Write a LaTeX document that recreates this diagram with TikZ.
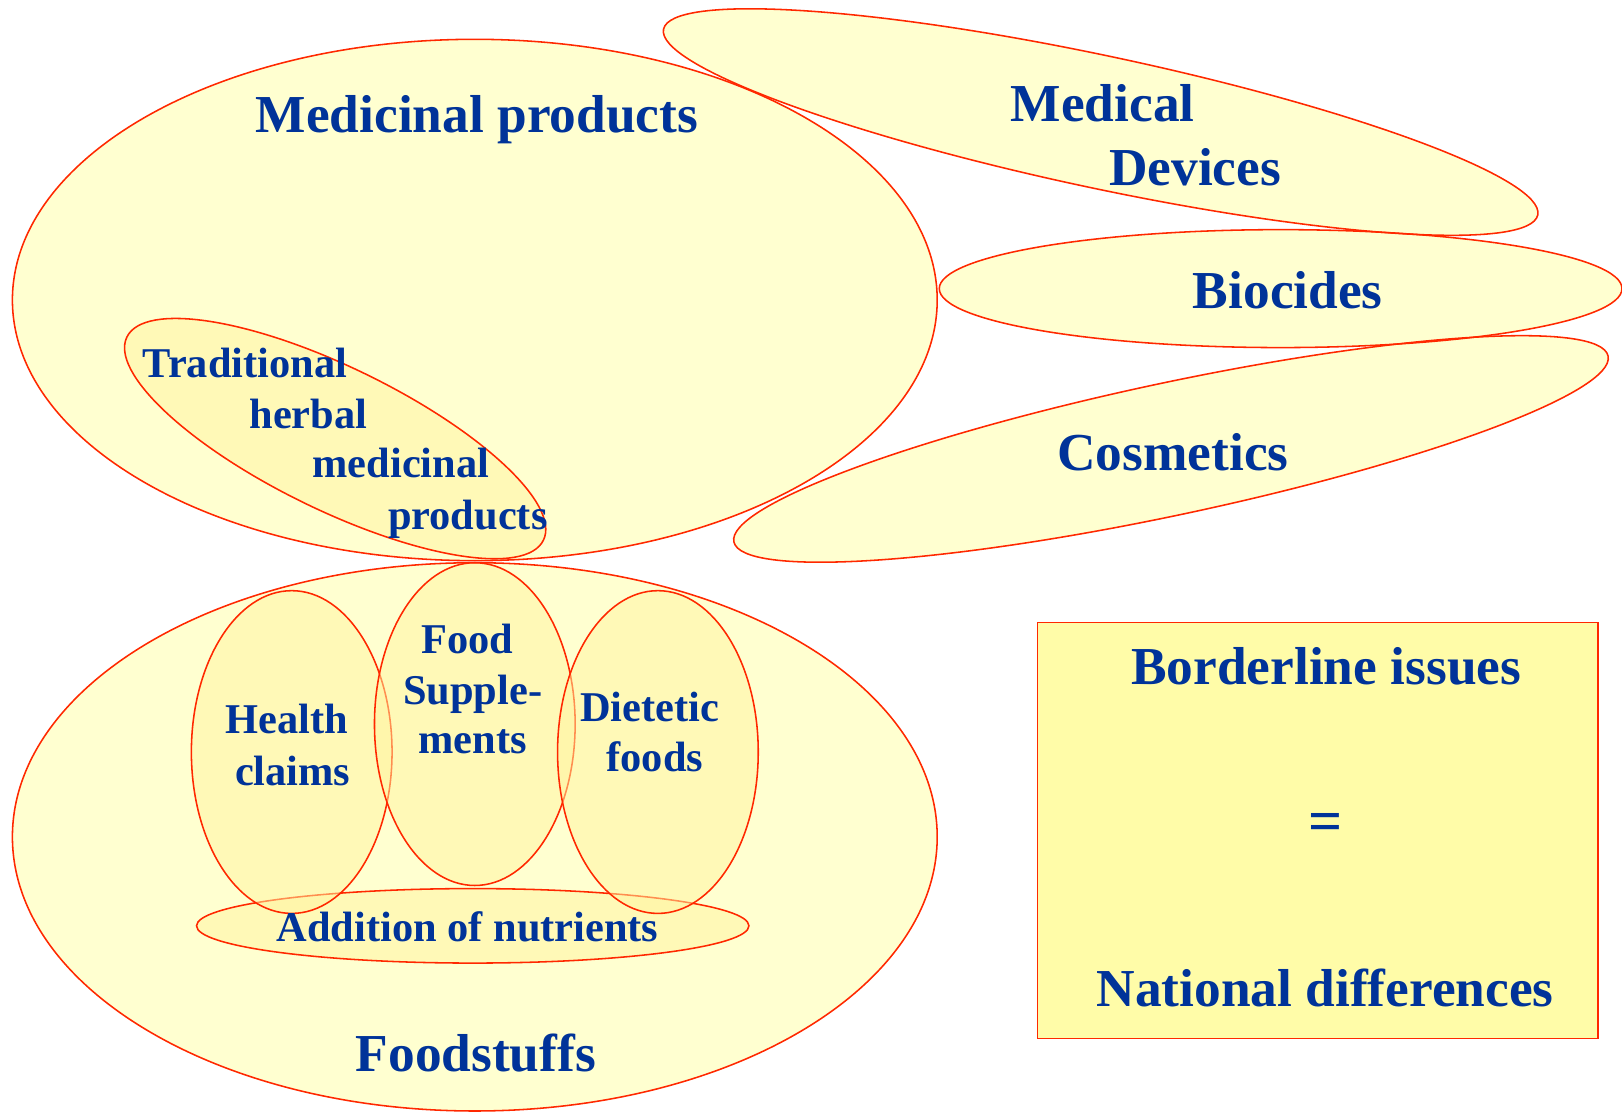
\documentclass[tikz,border=0pt]{standalone}
\usepackage{fontspec}
\setmainfont{Liberation Serif}
\definecolor{edge}{RGB}{255,40,0}
\definecolor{txt}{RGB}{0,51,153}
\definecolor{pale}{RGB}{255,255,208}
\definecolor{innerfill}{RGB}{255,245,160}
\definecolor{boxfill}{RGB}{255,252,168}
\tikzset{
  big/.style={font=\bfseries\fontsize{51.6}{60}\selectfont, text=txt, inner sep=0pt},
  mid/.style={font=\bfseries\fontsize{41}{48}\selectfont, text=txt, inner sep=0pt},
  outline/.style={draw=edge, line width=1.5pt},
  inner/.style={fill=innerfill, fill opacity=0.5, draw=edge, draw opacity=1, line width=1.5pt},
}
\begin{document}
\begin{tikzpicture}[x=1pt,y=-1pt]
\useasboundingbox (0,0) rectangle (1568,1075);
% upper group: fills
\fill[pale] (459,290) ellipse [x radius=447, y radius=252];
\fill[pale, rotate around={-12:(1064,118)}] (1064,118) ellipse [x radius=432, y radius=64];
\fill[pale] (1238,279) ellipse [x radius=330, y radius=57];
\fill[pale, rotate around={12:(1132,434)}] (1132,434) ellipse [x radius=432, y radius=64];
\fill[innerfill, fill opacity=0.5, rotate around={-26:(324,424)}] (324,424) ellipse [x radius=224, y radius=69];
% upper group: outlines
\draw[outline] (459,290) ellipse [x radius=447, y radius=252];
\draw[outline, rotate around={-12:(1064,118)}] (1064,118) ellipse [x radius=432, y radius=64];
\draw[outline] (1238,279) ellipse [x radius=330, y radius=57];
\draw[outline, rotate around={12:(1132,434)}] (1132,434) ellipse [x radius=432, y radius=64];
\draw[outline, rotate around={-26:(324,424)}] (324,424) ellipse [x radius=224, y radius=69];
% food group
\filldraw[fill=pale, outline] (459,809) ellipse [x radius=447, y radius=265];
\path[inner] (457,895) ellipse [x radius=267, y radius=36];
\path[inner] (282,727) ellipse [x radius=97, y radius=156];
\path[inner] (459,700) ellipse [x radius=97, y radius=156];
\path[inner] (636,727) ellipse [x radius=97, y radius=156];
% box
\node[draw=edge, fill=boxfill, line width=1.5pt, minimum width=542pt, minimum height=402pt, anchor=north west, inner sep=0pt] (box) at (1002,601) {};
% texts
\node[big, anchor=base west] (medprod) at (247,128) {Medicinal products};
\node[big, anchor=base west] (medical) at (977,117) {Medical};
\node[big, anchor=base west] (devices) at (1072,179) {Devices};
\node[big, anchor=base west] (biocides) at (1153,298) {Biocides};
\node[big, anchor=base west] (cosmetics) at (1022,455) {Cosmetics};
\node[mid, anchor=base west] (trad1) at (138,365) {Traditional};
\node[mid, anchor=base west] (trad2) at (241,414) {herbal};
\node[mid, anchor=base west] (trad3) at (302,462) {medicinal};
\node[mid, anchor=base west] (trad4) at (375,512) {products};
\node[mid, anchor=base] (food1) at (452,632) {Food};
\node[mid, anchor=base] (food2) at (457,681) {Supple-};
\node[mid, anchor=base] (food3) at (457,728) {ments};
\node[mid, anchor=base] (health1) at (277,709) {Health};
\node[mid, anchor=base] (health2) at (283,759) {claims};
\node[mid, anchor=base] (diet1) at (628,697) {Dietetic};
\node[mid, anchor=base] (diet2) at (633,746) {foods};
\node[mid, anchor=base] (addn) at (452,910) {Addition of nutrients};
\node[big, anchor=base] (foodstuffs) at (460,1036) {Foodstuffs};
\node[big, anchor=base] (border) at (1282,662) {Borderline issues};
\node[big, font=\bfseries\fontsize{58}{60}\selectfont] (eq) at (1281,800) {=};
\node[big, anchor=base] (natdiff) at (1281,973) {National differences};
\end{tikzpicture}
\end{document}
